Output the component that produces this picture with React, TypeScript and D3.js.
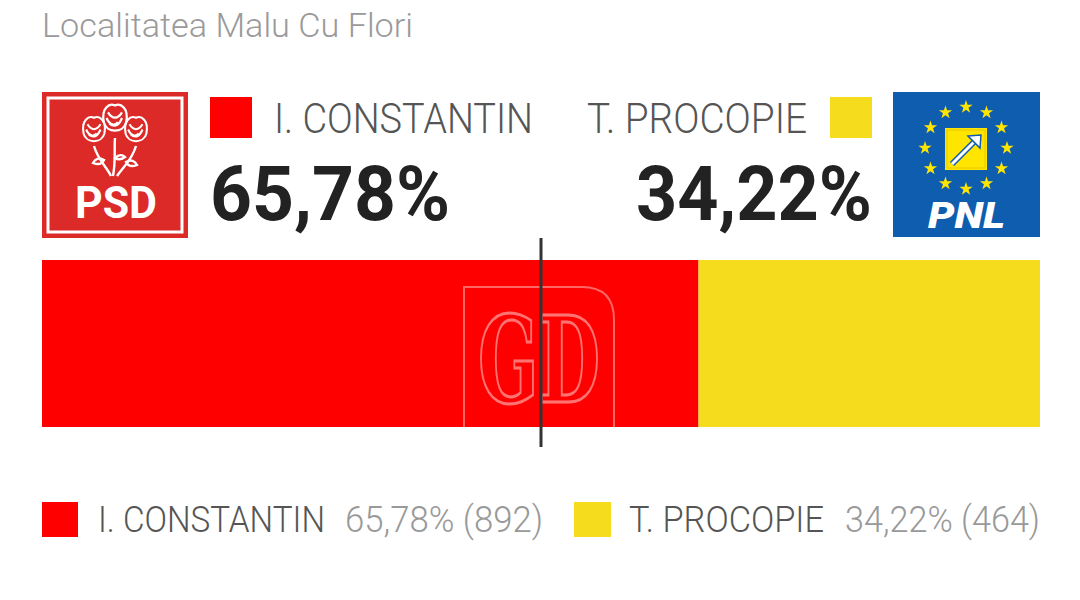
import React from "react";
import * as d3 from "d3";

const title = "Localitatea Malu Cu Flori";
const candidates = ["I. CONSTANTIN", "T. PROCOPIE"];
const percents = [65.78, 34.22];
const votes = [892, 464];
const colors = ["#ff0000", "#f5dc1c"];

const W = 1080;
const H = 600;
const FONT = "Roboto, 'Open Sans', sans-serif";

const fmt = (v: number) => v.toFixed(2).replace(".", ",") + "%";

function Stars({ cx, cy, r }: { cx: number; cy: number; r: number }) {
  const star = d3.symbol().type(d3.symbolStar).size(55)();
  return (
    <g>
      {d3.range(12).map((i) => {
        const a = (i / 12) * Math.PI * 2;
        return (
          <path
            key={i}
            d={star || ""}
            transform={`translate(${cx + r * Math.sin(a)},${cy - r * Math.cos(a)})`}
            fill="#ffe500"
          />
        );
      })}
    </g>
  );
}

function Rose({ x, y, s }: { x: number; y: number; s: number }) {
  return (
    <g transform={`translate(${x},${y}) scale(${s})`} fill="none" stroke="#fff" strokeWidth={1.6}>
      <path d="M-8,-2 C-10,-12 -4,-16 0,-14 C4,-16 10,-12 8,-2 C6,6 -6,6 -8,-2 Z" />
      <path d="M-5,-9 C-2,-4 2,-4 5,-9" />
      <path d="M-4,-1 C0,2 3,0 5,-5" />
      <path d="M-6,-5 C-4,0 0,1 2,-2" />
    </g>
  );
}

export default function App() {
  const x = d3.scaleLinear().domain([0, 100]).range([42, 1040]);
  const stack = d3.cumsum(percents);
  const starts = [0, ...Array.from(stack).slice(0, -1)];
  const barTop = 260;
  const barBottom = 427;

  return (
    <svg
      width={W}
      height={H}
      style={{ position: "absolute", left: 0, top: 0, background: "#fff" }}
      fontFamily={FONT}
    >
      <rect width={W} height={H} fill="#fff" />
      <text x={42} y={37} fontSize={33} fontWeight={300} fill="#9a9a9a" textLength={371} lengthAdjust="spacingAndGlyphs">
        {title}
      </text>

      {/* PSD logo */}
      <g>
        <rect x={42} y={92} width={146} height={146} fill="#dc2a28" />
        <rect x={48} y={98} width={134} height={134} fill="none" stroke="#fff" strokeWidth={3} />
        <g stroke="#fff" strokeWidth={2.4} fill="none">
          <path d="M115,138 C114,150 116,160 113,176" />
          <path d="M94,146 C98,160 106,166 111,176" />
          <path d="M136,146 C132,160 124,166 117,176" />
          <path d="M104,160 C99,157 95,159 93,163 C98,165 102,164 104,160 Z" />
          <path d="M126,162 C131,159 135,161 137,165 C132,167 128,166 126,162 Z" />
          <path d="M115,158 C119,154 123,155 125,157 C121,160 118,160 115,158 Z" />
        </g>
        <Rose x={115} y={125} s={1.4} />
        <Rose x={94} y={136} s={1.3} />
        <Rose x={136} y={136} s={1.3} />
        <text x={116} y={218} textAnchor="middle" fontSize={44} fontWeight={700} fill="#fff" fontFamily="Roboto, sans-serif" textLength={82} lengthAdjust="spacingAndGlyphs">
          PSD
        </text>
      </g>

      {/* PNL logo */}
      <g>
        <rect x={893} y={92} width={147} height={145} fill="#0f5daf" />
        <Stars cx={966} cy={148} r={41} />
        <rect x={945} y={128} width={42} height={42} fill="#ffe500" />
        <rect x={947} y={130} width={38} height={38} fill="none" stroke="#e8c800" strokeWidth={1} />
        <path d="M952,164 L976,140" stroke="#0f5daf" strokeWidth={6} />
        <path d="M952,164 L976,140" stroke="#fff" strokeWidth={3} />
        <path d="M968,136 L981,135 L980,148 Z" fill="#fff" stroke="#0f5daf" strokeWidth={1.5} />
        <text x={928} y={228} fontSize={36} fontWeight={900} fontStyle="italic" fill="#fff" fontFamily="Roboto, sans-serif" textLength={77} lengthAdjust="spacingAndGlyphs">
          PNL
        </text>
      </g>

      {/* top headers */}
      <rect x={210} y={97} width={42} height={41} fill={colors[0]} />
      <text x={274} y={133} fontSize={42} fontWeight={300} fill="#555" textLength={259} lengthAdjust="spacingAndGlyphs">
        {candidates[0]}
      </text>
      <text x={210} y={220} fontSize={76} fontWeight={700} fill="#222" textLength={240} lengthAdjust="spacingAndGlyphs">
        {fmt(percents[0])}
      </text>

      <rect x={830} y={97} width={42} height={41} fill={colors[1]} />
      <text x={587} y={133} fontSize={42} fontWeight={300} fill="#555" textLength={220} lengthAdjust="spacingAndGlyphs">
        {candidates[1]}
      </text>
      <text x={636} y={220} fontSize={76} fontWeight={700} fill="#222" textLength={236} lengthAdjust="spacingAndGlyphs">
        {fmt(percents[1])}
      </text>

      {/* bar */}
      {percents.map((p, i) => (
        <rect
          key={i}
          x={x(starts[i])}
          y={barTop}
          width={x(starts[i] + p) - x(starts[i])}
          height={barBottom - barTop}
          fill={colors[i]}
        />
      ))}

      {/* watermark */}
      <g fill="none" stroke="#fff" strokeOpacity={0.4} strokeWidth={2}>
        <path d="M464,440 L464,287 L582,287 Q614,287 614,320 L614,440" />
        <text x={478} y={402} fontSize={120} fontWeight={700} fontFamily="'DejaVu Serif', serif" strokeWidth={3} strokeOpacity={0.45} textLength={122} lengthAdjust="spacingAndGlyphs">
          GD
        </text>
      </g>

      {/* midline */}
      <line x1={x(50)} x2={x(50)} y1={238} y2={447} stroke="#333" strokeWidth={3} />

      {/* bottom legend */}
      <rect x={42} y={502} width={36} height={35} fill={colors[0]} />
      <text x={98} y={532} fontSize={36} fontWeight={300} fill="#555" textLength={227} lengthAdjust="spacingAndGlyphs">
        {candidates[0]}
      </text>
      <text x={345} y={532} fontSize={36} fontWeight={300} fill="#999" textLength={198} lengthAdjust="spacingAndGlyphs">
        {`${fmt(percents[0])} (${votes[0]})`}
      </text>

      <rect x={574} y={502} width={37} height={35} fill={colors[1]} />
      <text x={629} y={532} fontSize={36} fontWeight={300} fill="#555" textLength={195} lengthAdjust="spacingAndGlyphs">
        {candidates[1]}
      </text>
      <text x={845} y={532} fontSize={36} fontWeight={300} fill="#999" textLength={195} lengthAdjust="spacingAndGlyphs">
        {`${fmt(percents[1])} (${votes[1]})`}
      </text>
    </svg>
  );
}
